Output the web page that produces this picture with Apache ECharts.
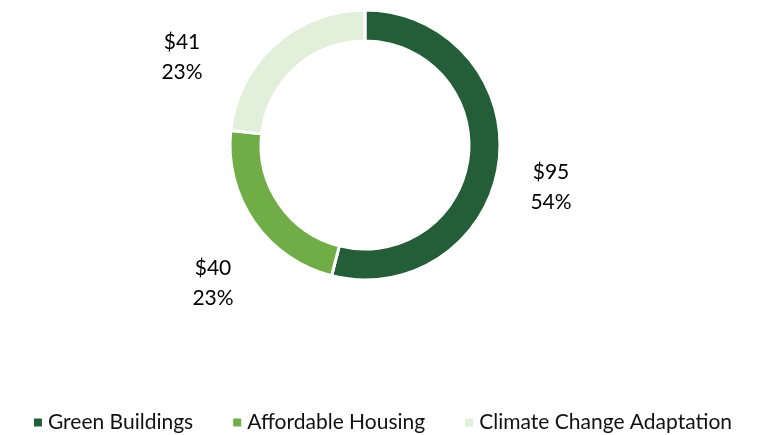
<!DOCTYPE html>
<html>
<head>
<meta charset="utf-8">
<script src="https://cdn.jsdelivr.net/npm/echarts@6/dist/echarts.min.js"></script>
<style>
  html, body { margin: 0; padding: 0; background: #fff; }
  #chart { width: 764px; height: 435px; }
</style>
</head>
<body>
<div id="chart"></div>
<script>
const categories = ['Green Buildings', 'Affordable Housing', 'Climate Change Adaptation']
const amounts = [95, 40, 41]
const percents = ['54%', '23%', '23%']
const colors = ['#245E39', '#70AD47', '#E2EFDA']
// label centres, px
const labelPos = [[551, 187], [213, 283], [182, 57]]

const chart = echarts.init(document.getElementById('chart'))

chart.setOption({
  textStyle: { fontFamily: 'Lato, sans-serif' },
  legend: {
    top: 412,
    left: 'center',
    padding: 0,
    icon: 'rect',
    itemWidth: 10,
    itemHeight: 10,
    itemGap: 38,
    textStyle: { fontSize: 21, color: '#111', fontFamily: 'Lato, sans-serif' },
    data: categories,
  },
  series: [
    {
      type: 'pie',
      center: [365, 145],
      radius: [104, 135],
      startAngle: 90,
      clockwise: true,
      silent: true,
      data: categories.map((name, i) => ({
        name,
        value: amounts[i],
        itemStyle: { color: colors[i] },
      })),
      itemStyle: { borderColor: '#fff', borderWidth: 3 },
      label: {
        show: true,
        position: 'outside',
        formatter: (p) => `$${amounts[p.dataIndex]}\n${percents[p.dataIndex]}`,
        fontSize: 21,
        lineHeight: 30,
        color: '#000',
        fontFamily: 'Lato, sans-serif',
      },
      labelLine: { show: false },
      labelLayout: (p) => ({
        x: labelPos[p.dataIndex][0],
        y: labelPos[p.dataIndex][1],
        align: 'center',
        verticalAlign: 'middle',
      }),
    },
  ],
})
</script>
</body>
</html>
